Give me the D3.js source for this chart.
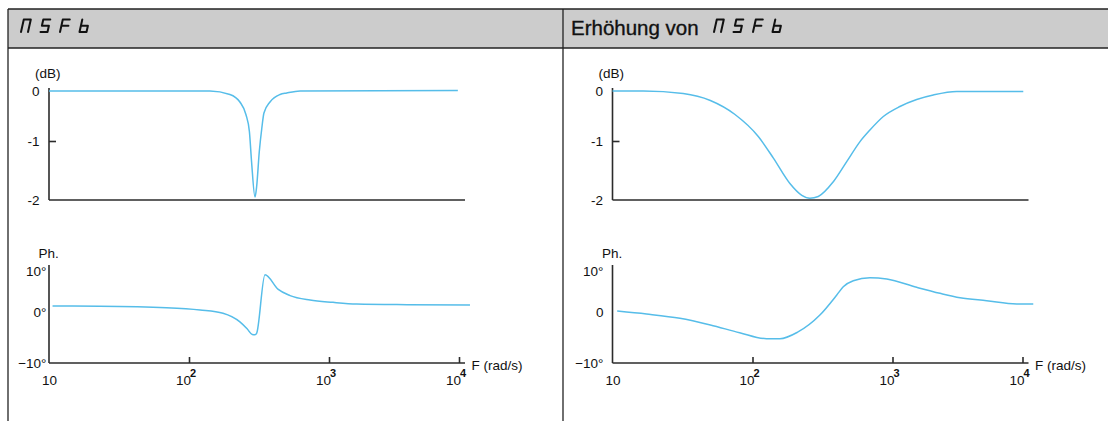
<!DOCTYPE html>
<html>
<head>
<meta charset="utf-8">
<script src="https://cdn.jsdelivr.net/npm/d3@7"></script>
<style>
  html, body { margin: 0; padding: 0; background: #ffffff; }
  svg { display: block; font-family: "Liberation Sans", Arial, sans-serif; }
</style>
</head>
<body>
<svg id="chart" width="1108" height="421"></svg>
<script>
// ---- Axis ticks ----
const freqTicks = [10, 100, 1000, 10000];          // rad/s, log axis
const freqExponents = [null, "2", "3", "4"];
const dbTicks = [0, -1, -2];
const dbLabels = ["0", "-1", "-2"];
const phaseTicks = [10, 0, -10];
const phaseLabelsLeft = ["10°", "0°", "\u221210°"];
const phaseLabelsRight = ["10°", "0", "\u221210°"];

// ---- Left panel: nSFb (narrow notch) ----  [frequency rad/s, value]
const narrowGain = [
  [10, 0], [141, 0], [196, -0.07], [231, -0.22], [255, -0.47], [270, -0.81],
  [280, -1.36], [296, -1.95], [304, -1.78], [318, -1.17], [331, -0.75],
  [343, -0.44], [379, -0.22], [447, -0.07], [499, -0.04], [621, 0], [9800, 0.01]
];
const narrowPhase = [
  [10.6, 1.45], [23, 1.4], [69, 1.05], [120, 0.5], [175, -0.25], [231, -1.95],
  [260, -3.3], [283, -4.4], [296, -4.45], [304, -4.2], [349, 9.1], [434, 5.5],
  [527, 4.0], [732, 2.9], [1073, 2.35], [1633, 1.95], [4000, 1.78], [12150, 1.7]
];

// ---- Right panel: increased nSFb (wide notch) ----
const wideGain = [
  [10, 0], [16.6, 0], [32, -0.05], [50, -0.19], [75, -0.47], [110, -0.91],
  [141, -1.29], [185, -1.72], [225, -1.92], [257, -1.97], [295, -1.94],
  [378, -1.69], [471, -1.35], [586, -1.01], [690, -0.78], [860, -0.51],
  [1140, -0.31], [1535, -0.17], [2060, -0.08], [3120, -0.01], [10140, -0.01]
];
const widePhase = [
  [10.8, 0.24], [17.5, -0.39], [30.3, -1.24], [50, -2.55], [81, -4.06],
  [126, -5.24], [157, -5.24], [210, -3.95], [303, -0.59], [400, 4.15],
  [445, 6.17], [525, 7.63], [690, 8.37], [910, 8.05], [1535, 6.02],
  [2320, 4.56], [3310, 3.49], [5300, 2.76], [9020, 1.95], [12100, 1.95]
];

// ---- Drawing ----
const W = 1108, H = 421;
const svg = d3.select("#chart");
const INK = "#2b2b2b";
const CURVE = "#56bde9";
const FONT = 13.5;

// Table frame with grey header row
const frame = { left: 8, top: 9, headBottom: 48, divider: 563, right: W };
svg.append("rect")
  .attr("x", frame.left).attr("y", frame.top)
  .attr("width", frame.right - frame.left).attr("height", frame.headBottom - frame.top)
  .attr("fill", "#cccccc");
const frameLines = [
  [frame.left, frame.top, frame.right, frame.top],
  [frame.left, frame.headBottom, frame.right, frame.headBottom],
  [frame.left, frame.top, frame.left, H],
  [frame.divider, frame.top, frame.divider, H]
];
svg.append("g").selectAll("line").data(frameLines).join("line")
  .attr("x1", d => d[0]).attr("y1", d => d[1])
  .attr("x2", d => d[2]).attr("y2", d => d[3])
  .attr("stroke", "#222").attr("stroke-width", 1.3);

// Seven-segment style parameter code (drive display characters)
const SEGMENTS = { n: "abcef", S: "afgcd", F: "afge", b: "cdefg" };
function drawCode(parent, code, x0, step) {
  const h = 12.5, w = 7, slant = 2.8, top = 19.5;
  const P = (x, y) => [x + slant * (h - y) / h, top + y];
  const pts = {
    A: P(0, 0), B: P(w, 0), C: P(0, h / 2), D: P(w, h / 2), E: P(0, h), F: P(w, h)
  };
  const segDef = { a: ["A", "B"], b: ["B", "D"], c: ["D", "F"], d: ["E", "F"],
                   e: ["C", "E"], f: ["A", "C"], g: ["C", "D"] };
  const g = parent.append("g").attr("aria-label", code).attr("role", "img");
  code.split("").forEach((ch, i) => {
    const ox = x0 + i * step;
    const d = SEGMENTS[ch].split("").map(s => {
      const [p, q] = segDef[s].map(k => pts[k]);
      return `M${ox + p[0]},${p[1]}L${ox + q[0]},${q[1]}`;
    }).join("");
    g.append("path").attr("d", d).attr("fill", "none")
      .attr("stroke", "#111").attr("stroke-width", 2)
      .attr("stroke-linecap", "round").attr("stroke-linejoin", "round");
  });
}

const panels = [
  { ox: 0, gain: narrowGain, phase: narrowPhase, phaseLabels: phaseLabelsLeft,
    phaseGap: 2.5, dbGap: 9.5, title: null, codeX: 21 },
  { ox: 563.5, gain: wideGain, phase: widePhase, phaseLabels: phaseLabelsRight,
    phaseGap: 9, dbGap: 9.5, title: "Erhöhung von", codeX: 714 }
];

panels.forEach(p => {
  // header
  if (p.title) {
    svg.append("text").attr("x", 571).attr("y", 35)
      .attr("font-size", 20.5).attr("fill", "#111")
      .attr("stroke", "#111").attr("stroke-width", 0.35)
      .text(p.title);
  }
  drawCode(svg, "nSFb", p.codeX, 19.5);

  const g = svg.append("g").attr("transform", `translate(${p.ox},0)`);

  // shared log frequency scale (decade spacing as drawn)
  const x = d3.scaleLog().domain(freqTicks).range([49, 189, 329, 459]);
  const axisEnd = 465;
  const yDb = d3.scaleLinear().domain([-2, -1, 0]).range([200, 141, 91]);
  const yPh = d3.scaleLinear().domain([-10, 0, 10]).range([363, 312, 271]);

  // ---- Gain chart ----
  g.append("line").attr("x1", x(10)).attr("x2", x(10)).attr("y1", 88).attr("y2", yDb(-2))
    .attr("stroke", INK).attr("stroke-width", 1.6);
  g.append("line").attr("x1", x(10)).attr("x2", axisEnd).attr("y1", yDb(-2)).attr("y2", yDb(-2))
    .attr("stroke", INK).attr("stroke-width", 1.6);
  // inner tick at -1 dB
  const dbTickAxis = g.append("g").attr("transform", `translate(${x(10)},0)`)
    .call(d3.axisRight(yDb).tickValues([-1]).tickSize(7).tickFormat(""));
  dbTickAxis.select(".domain").remove();
  dbTickAxis.selectAll("line").attr("stroke", INK).attr("stroke-width", 1.6);
  // labels
  const dbLabelAxis = g.append("g").attr("transform", `translate(${x(10)},0)`)
    .call(d3.axisLeft(yDb).tickValues(dbTicks).tickSize(0).tickPadding(p.dbGap)
      .tickFormat((d, i) => dbLabels[i]));
  dbLabelAxis.select(".domain").remove();
  dbLabelAxis.selectAll("text").attr("font-size", FONT).attr("font-family", null)
    .attr("fill", "#111").attr("dy", "0.36em");
  g.append("text").attr("x", 35).attr("y", 77.5).attr("font-size", FONT)
    .attr("fill", "#111").text("(dB)");

  g.append("path").datum(p.gain)
    .attr("fill", "none").attr("stroke", CURVE).attr("stroke-width", 1.5)
    .attr("d", d3.line().x(d => x(d[0])).y(d => yDb(d[1])).curve(d3.curveMonotoneX));

  // ---- Phase chart ----
  g.append("line").attr("x1", x(10)).attr("x2", x(10)).attr("y1", 265).attr("y2", yPh(-10))
    .attr("stroke", INK).attr("stroke-width", 1.6);
  g.append("line").attr("x1", x(10)).attr("x2", axisEnd).attr("y1", yPh(-10)).attr("y2", yPh(-10))
    .attr("stroke", INK).attr("stroke-width", 1.6);
  const phLabelAxis = g.append("g").attr("transform", `translate(${x(10)},0)`)
    .call(d3.axisLeft(yPh).tickValues(phaseTicks).tickSize(0).tickPadding(p.phaseGap)
      .tickFormat((d, i) => p.phaseLabels[i]));
  phLabelAxis.select(".domain").remove();
  phLabelAxis.selectAll("text").attr("font-size", FONT).attr("font-family", null)
    .attr("fill", "#111").attr("dy", "0.3em");
  g.append("text").attr("x", 38.5).attr("y", 258).attr("font-size", FONT)
    .attr("fill", "#111").text("Ph.");

  // frequency axis ticks and labels
  const fAxis = g.append("g").attr("transform", `translate(0,${yPh(-10)})`)
    .call(d3.axisBottom(x).tickValues(freqTicks).tickSize(0).tickFormat(""));
  fAxis.select(".domain").remove();
  fAxis.selectAll(".tick").filter(d => d > 10).select("line")
    .attr("y2", -6).attr("stroke", INK).attr("stroke-width", 1.6);
  fAxis.selectAll(".tick").each(function (d, i) {
    const t = d3.select(this).append("text").attr("fill", "#111")
      .attr("font-size", FONT).attr("y", 21.5);
    if (freqExponents[i] === null) {
      t.attr("text-anchor", "middle").text("10");
    } else {
      t.attr("text-anchor", "end").attr("x", 1.5).text("10");
      d3.select(this).append("text").attr("fill", "#111")
        .attr("font-size", 11).attr("font-weight", "bold")
        .attr("x", 3.5).attr("y", 14).text(freqExponents[i]);
    }
  });
  g.append("text").attr("x", 471.5).attr("y", yPh(-10) + 6.5).attr("font-size", FONT)
    .attr("fill", "#111").text("F (rad/s)");

  g.append("path").datum(p.phase)
    .attr("fill", "none").attr("stroke", CURVE).attr("stroke-width", 1.5)
    .attr("d", d3.line().x(d => x(d[0])).y(d => yPh(d[1])).curve(d3.curveMonotoneX));
});
</script>
</body>
</html>
